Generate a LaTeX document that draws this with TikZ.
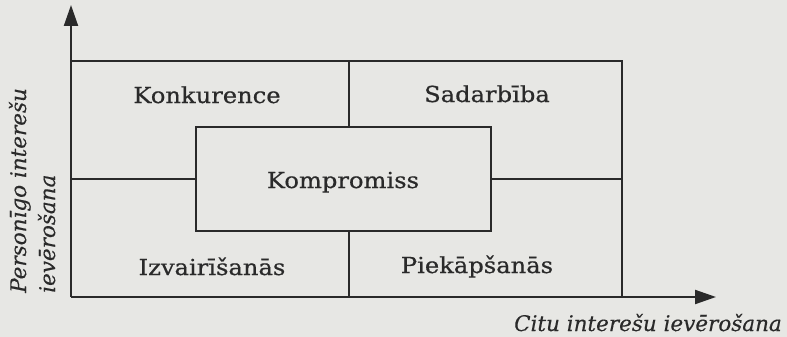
\documentclass[tikz,border=0pt]{standalone}
\usepackage{fontspec}
\setmainfont{DejaVu Serif}[FakeStretch=1.1, FakeBold=0.6]
\newfontfamily\axfont{DejaVu Serif}[FakeBold=0.3]
\usetikzlibrary{arrows.meta}
\definecolor{paper}{HTML}{E7E7E4}
\definecolor{ink}{HTML}{2A2A2A}
\tikzset{
  frame/.style={line width=2.3pt, draw=ink},
  axis/.style={line width=2.1pt, draw=ink, -{Triangle[length=21pt,width=14pt]}},
  lbl/.style={text=ink, font=\fontsize{22}{26}\selectfont, inner sep=0pt, anchor=base},
  axlbl/.style={text=ink, font=\fontsize{21.5}{25}\axfont\itshape, inner sep=0pt},
  centrebox/.style={frame, minimum width=295pt, minimum height=104pt, inner sep=0pt}
}
\begin{document}
\begin{tikzpicture}[x=1pt,y=-1pt]
\fill[paper] (0,0) rectangle (787,337);
\useasboundingbox (0,0) rectangle (787,337);
% axes
\coordinate (O) at (71,297);
\coordinate (ytip) at (71,5);
\coordinate (xtip) at (716,297);
\coordinate (TL) at (71,61);
\coordinate (TR) at (622,61);
\coordinate (BR) at (622,297);
\coordinate (tm) at (349,61);
\coordinate (bm) at (349,297);
\draw[axis] (O) -- (ytip);
\draw[axis] (O) -- (xtip);
\draw[frame] (TL) -- (TR) -- (BR);
% centre box
\node[centrebox] (komp) at (343.5,179) {};
\node[lbl] (kompt) at (343,188) {Kompromiss};
\draw[frame] (tm) -- (tm |- komp.north);
\draw[frame] (bm) -- (bm |- komp.south);
\draw[frame] (komp.west) -- (komp.west -| O);
\draw[frame] (komp.east) -- (komp.east -| BR);
% quadrant labels
\node[lbl] (konk) at (207,103) {Konkurence};
\node[lbl] (sad) at (487,102) {Sadarbība};
\node[lbl] (izv) at (212,275) {Izvairīšanās};
\node[lbl] (piek) at (477,273) {Piekāpšanās};
% axis labels
\node[axlbl, rotate=90, anchor=base west] (ylab1) at (26,293) {Personīgo interešu};
\node[axlbl, rotate=90, anchor=base west] (ylab2) at (55,293) {ievērošana};
\node[axlbl, anchor=base east] (xlab) at (782,331) {Citu interešu ievērošana};
\end{tikzpicture}
\end{document}
